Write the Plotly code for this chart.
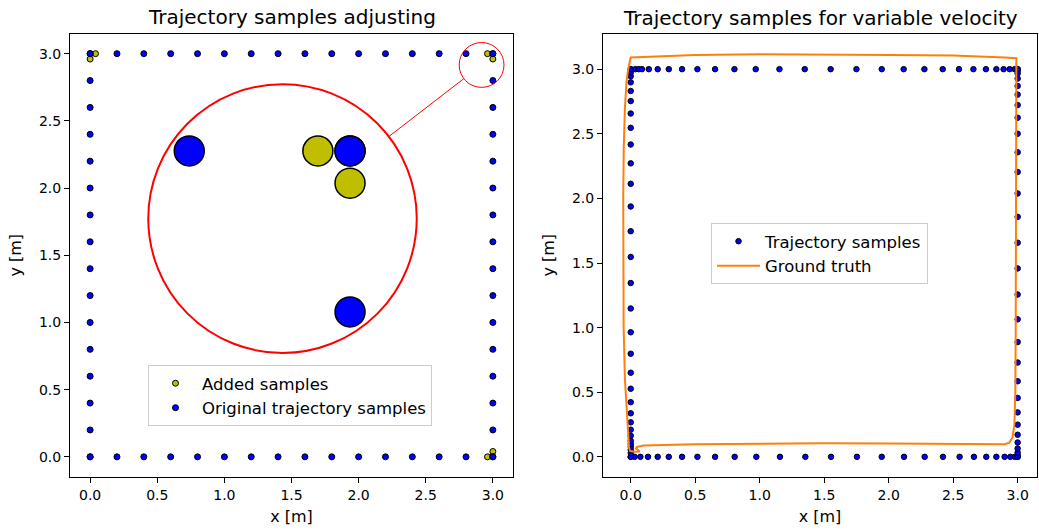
import plotly.graph_objects as go

# ---------------- Left panel data ----------------
# Original trajectory samples lie on the square perimeter every 0.2 m
edge_pos = [0.0, 0.2, 0.4, 0.6, 0.8, 1.0, 1.2, 1.4, 1.6, 1.8, 2.0, 2.2, 2.4, 2.6, 2.8, 3.0]
side_low = 0.0
side_high = 3.0

# Added samples near the corners
added_x = [0.04, 0.0, 2.96, 3.0, 2.96, 3.0]
added_y = [3.0, 2.96, 3.0, 2.96, 0.0, 0.04]

# Zoom inset parameters (small circle -> big circle)
zoom_center = (2.916, 2.916)
zoom_radius = 0.167
inset_center = (1.433, 1.773)
inset_radius = 1.0

# ---------------- Right panel data ----------------
top_x = [0.0, 0.036, 0.062, 0.087, 0.14, 0.209, 0.295, 0.398, 0.517, 0.654, 0.804, 0.969,
         1.153, 1.349, 1.55, 1.75, 1.946, 2.116, 2.277, 2.419, 2.545, 2.657, 2.754, 2.835,
         2.891, 2.938, 2.977, 3.0]
bottom_x = [0.0, 0.03, 0.075, 0.134, 0.209, 0.295, 0.398, 0.517, 0.654, 0.806, 0.974, 1.157,
            1.354, 1.553, 1.754, 1.946, 2.119, 2.279, 2.421, 2.55, 2.661, 2.757, 2.835, 2.899,
            2.943, 2.977, 3.0]
left_y = [0.0, 0.03, 0.055, 0.078, 0.099, 0.124, 0.163, 0.21, 0.267, 0.337, 0.423, 0.527,
          0.651, 0.798, 0.964, 1.148, 1.345, 1.547, 1.746, 1.937, 2.113, 2.271, 2.417, 2.546,
          2.657, 2.753, 2.831, 2.898, 2.945, 2.974, 3.0]
right_y = [0.0, 0.013, 0.033, 0.064, 0.111, 0.171, 0.249, 0.344, 0.456, 0.585, 0.73, 0.888,
           1.064, 1.256, 1.458, 1.657, 1.857, 2.038, 2.204, 2.357, 2.5, 2.624, 2.722, 2.803,
           2.87, 2.927, 2.966, 2.985, 3.0]

gt_x = [0.04, 0.1, 0.5, 1.0, 1.5, 2.0, 2.5, 2.8, 2.9, 2.935, 2.96, 2.975, 2.982, 2.985, 2.987,
        2.988, 2.99, 2.99, 2.9, 2.5, 2.0, 1.5, 1.0, 0.5, 0.1, 0.0, -0.02, -0.033, -0.045,
        -0.054, -0.058, -0.058, -0.055, -0.045, -0.033, -0.02, -0.013, -0.005, 0.03, 0.07, 0.035]
gt_y = [0.075, 0.088, 0.097, 0.102, 0.105, 0.104, 0.1, 0.095, 0.097, 0.11, 0.15, 0.25, 0.5,
        1.0, 1.5, 2.0, 2.5, 3.085, 3.09, 3.105, 3.11, 3.115, 3.115, 3.11, 3.095, 3.09, 3.0,
        2.9, 2.7, 2.4, 2.0, 1.5, 1.0, 0.6, 0.4, 0.2, 0.07, 0.045, 0.04, 0.042, 0.07]

tick_vals = [0.0, 0.5, 1.0, 1.5, 2.0, 2.5, 3.0]
tick_text = ["0.0", "0.5", "1.0", "1.5", "2.0", "2.5", "3.0"]

BLUE = "#0000ff"
YELLOW = "#bfbf00"
ORANGE = "#ff7f0e"
FONT = "DejaVu Sans"

# Build original sample perimeter from the edge positions
orig_x = edge_pos + edge_pos + [side_low] * len(edge_pos) + [side_high] * len(edge_pos)
orig_y = [side_low] * len(edge_pos) + [side_high] * len(edge_pos) + edge_pos + edge_pos

# Inset transform
scale = inset_radius / zoom_radius


def to_inset(xs, ys):
    ox, oy = [], []
    for x, y in zip(xs, ys):
        dx, dy = x - zoom_center[0], y - zoom_center[1]
        if (dx * dx + dy * dy) ** 0.5 <= zoom_radius:
            ox.append(inset_center[0] + scale * dx)
            oy.append(inset_center[1] + scale * dy)
    return ox, oy


ins_add_x, ins_add_y = to_inset(added_x, added_y)
ins_orig_x, ins_orig_y = to_inset(orig_x, orig_y)

# Right panel samples
traj_x = top_x + bottom_x + [0.0] * len(left_y) + [3.0] * len(right_y)
traj_y = [3.0] * len(top_x) + [0.0] * len(bottom_x) + left_y + right_y

fig = go.Figure()

fig.add_trace(go.Scatter(x=added_x, y=added_y, mode="markers", name="Added samples",
                         marker=dict(color=YELLOW, size=6, line=dict(color="black", width=1)),
                         xaxis="x", yaxis="y", legend="legend"))
fig.add_trace(go.Scatter(x=orig_x, y=orig_y, mode="markers", name="Original trajectory samples",
                         marker=dict(color=BLUE, size=6, line=dict(color="black", width=1)),
                         xaxis="x", yaxis="y", legend="legend"))
fig.add_trace(go.Scatter(x=ins_add_x, y=ins_add_y, mode="markers", showlegend=False,
                         marker=dict(color=YELLOW, size=30, line=dict(color="black", width=1.5)),
                         xaxis="x", yaxis="y"))
fig.add_trace(go.Scatter(x=ins_orig_x, y=ins_orig_y, mode="markers", showlegend=False,
                         marker=dict(color=BLUE, size=30, line=dict(color="black", width=1.5)),
                         xaxis="x", yaxis="y"))

fig.add_trace(go.Scatter(x=traj_x, y=traj_y, mode="markers", name="Trajectory samples",
                         marker=dict(color=BLUE, size=5.5, line=dict(color="black", width=1)),
                         xaxis="x2", yaxis="y2", legend="legend2"))
fig.add_trace(go.Scatter(x=gt_x, y=gt_y, mode="lines", name="Ground truth",
                         line=dict(color=ORANGE, width=2),
                         xaxis="x2", yaxis="y2", legend="legend2"))

# Circles and connecting line
ux = zoom_center[0] - inset_center[0]
uy = zoom_center[1] - inset_center[1]
un = (ux * ux + uy * uy) ** 0.5
ux, uy = ux / un, uy / un
shapes = [
    dict(type="circle", xref="x", yref="y",
         x0=inset_center[0] - inset_radius, x1=inset_center[0] + inset_radius,
         y0=inset_center[1] - inset_radius, y1=inset_center[1] + inset_radius,
         line=dict(color="red", width=2)),
    dict(type="circle", xref="x", yref="y",
         x0=zoom_center[0] - zoom_radius, x1=zoom_center[0] + zoom_radius,
         y0=zoom_center[1] - zoom_radius, y1=zoom_center[1] + zoom_radius,
         line=dict(color="red", width=1)),
    dict(type="line", xref="x", yref="y",
         x0=inset_center[0] + inset_radius * ux, y0=inset_center[1] + inset_radius * uy,
         x1=zoom_center[0] - zoom_radius * ux, y1=zoom_center[1] - zoom_radius * uy,
         line=dict(color="red", width=1)),
]

# Page body margin is removed (post_script), so page pixels == figure pixels.
W, H = 1039, 531


def px(p):
    return p / W


def py(p):
    return 1 - p / H


axis_common = dict(tickvals=tick_vals, ticktext=tick_text, ticks="outside", ticklen=5,
                   tickwidth=1, tickcolor="black", showline=True, linecolor="black",
                   linewidth=1, mirror=True, showgrid=False, zeroline=False,
                   tickfont=dict(family=FONT, size=14, color="black"))

ydom = [py(477), py(33.5)]
xtitle = dict(text="x [m]", standoff=9, font=dict(family=FONT, size=16, color="black"))
ytitle = dict(text="y [m]", standoff=13, font=dict(family=FONT, size=16, color="black"))

fig.update_layout(
    width=W, height=H,
    margin=dict(l=0, r=0, t=0, b=0),
    paper_bgcolor="white", plot_bgcolor="white",
    font=dict(family=FONT, size=14, color="black"),
    hovermode=False,
    xaxis=dict(domain=[px(70), px(513)], range=[-0.15, 3.15], anchor="y",
               title=xtitle, **axis_common),
    yaxis=dict(domain=ydom, range=[-0.15, 3.15], anchor="x",
               title=ytitle, **axis_common),
    xaxis2=dict(domain=[px(603), px(1037)], range=[-0.215, 3.15], anchor="y2",
                title=xtitle, **axis_common),
    yaxis2=dict(domain=ydom, range=[-0.156, 3.276], anchor="x2",
                title=ytitle, **axis_common),
    shapes=shapes,
    legend=dict(x=px(148), y=py(365), xanchor="left", yanchor="top", itemwidth=43,
                bgcolor="rgba(255,255,255,0.8)", bordercolor="#cccccc", borderwidth=1,
                font=dict(family=FONT, size=16.5, color="black")),
    legend2=dict(x=px(711), y=py(223), xanchor="left", yanchor="top", itemwidth=43,
                 bgcolor="rgba(255,255,255,0.8)", bordercolor="#cccccc", borderwidth=1,
                 font=dict(family=FONT, size=16.5, color="black")),
    annotations=[
        dict(text="Trajectory samples adjusting", xref="paper", yref="paper",
             x=px((70 + 513) / 2), y=py(17), xanchor="center", yanchor="middle",
             showarrow=False, font=dict(family=FONT, size=20, color="black")),
        dict(text="Trajectory samples for variable velocity", xref="paper", yref="paper",
             x=px((603 + 1037) / 2), y=py(18), xanchor="center", yanchor="middle",
             showarrow=False, font=dict(family=FONT, size=20, color="black")),
    ],
)

fig.write_html("out.html", config={"displayModeBar": False},
               post_script="document.body.style.margin='0';")
